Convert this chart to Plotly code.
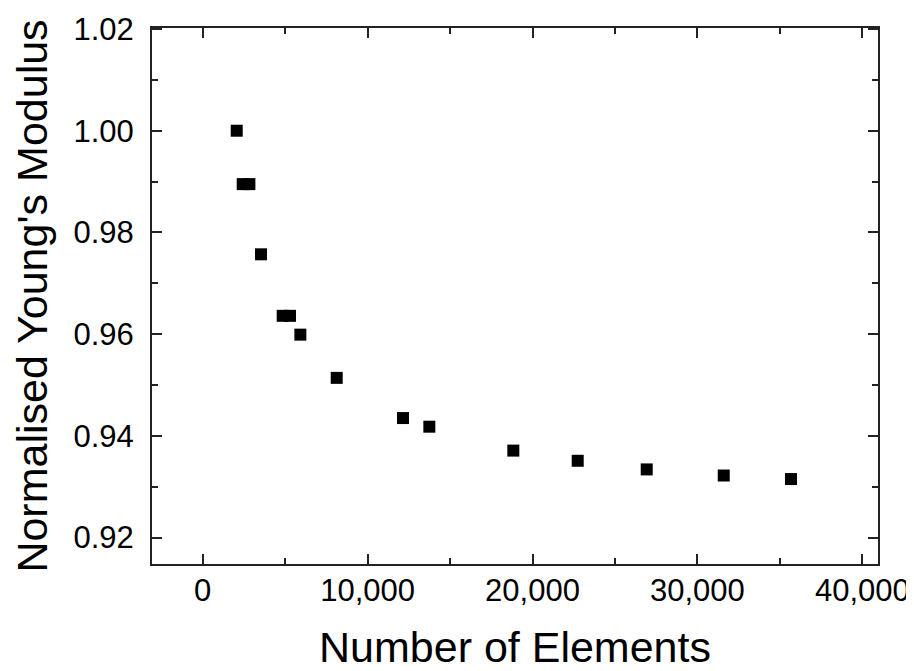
import plotly.graph_objects as go

elements = [2062, 2425, 2830, 3536, 4851, 5294, 5921, 8126, 12147, 13743,
            18836, 22741, 26925, 31595, 35675]
modulus = [1.000, 0.9895, 0.9895, 0.9757, 0.9636, 0.9636, 0.9599, 0.9514,
           0.9435, 0.9418, 0.9371, 0.9351, 0.9334, 0.9322, 0.9315]

x_ticks = [0, 10000, 20000, 30000, 40000]
y_ticks = [0.92, 0.94, 0.96, 0.98, 1.00, 1.02]

FONT = "Liberation Sans, Arial, sans-serif"

fig = go.Figure(go.Scatter(
    x=elements, y=modulus, mode="markers",
    marker=dict(symbol="square", size=12, color="black", line=dict(width=0)),
    showlegend=False,
))

axis_common = dict(
    showline=True, linecolor="#222", linewidth=2, mirror="ticks",
    ticks="inside", ticklen=10, tickwidth=2, tickcolor="#222",
    showgrid=False, zeroline=False,
    tickfont=dict(family=FONT, size=31, color="black"),
)

fig.update_xaxes(
    **axis_common,
    range=[-3075, 40950], tickvals=x_ticks, tickformat=",d",
    minor=dict(ticks="inside", ticklen=6, tickwidth=2, tickcolor="#222", dtick=5000, tick0=0),
    title=dict(text="Number of Elements", font=dict(family=FONT, size=43, color="black"), standoff=35),
    ticklabelstandoff=-2,
)
fig.update_yaxes(
    **axis_common,
    range=[0.9148, 1.0202], tickvals=y_ticks, tickformat=".2f",
    minor=dict(ticks="inside", ticklen=6, tickwidth=2, tickcolor="#222", dtick=0.01, tick0=0.92),
    title=dict(text="Normalised Young's Modulus", font=dict(family=FONT, size=43, color="black"), standoff=18),
    ticklabelstandoff=10,
)

# the page body adds an 8px offset, so the figure is sized to fit the window
fig.update_layout(
    width=906, height=663,
    margin=dict(l=144, r=36, t=20, b=107, autoexpand=False),
    plot_bgcolor="white", paper_bgcolor="white",
)

fig.write_html("out.html")
